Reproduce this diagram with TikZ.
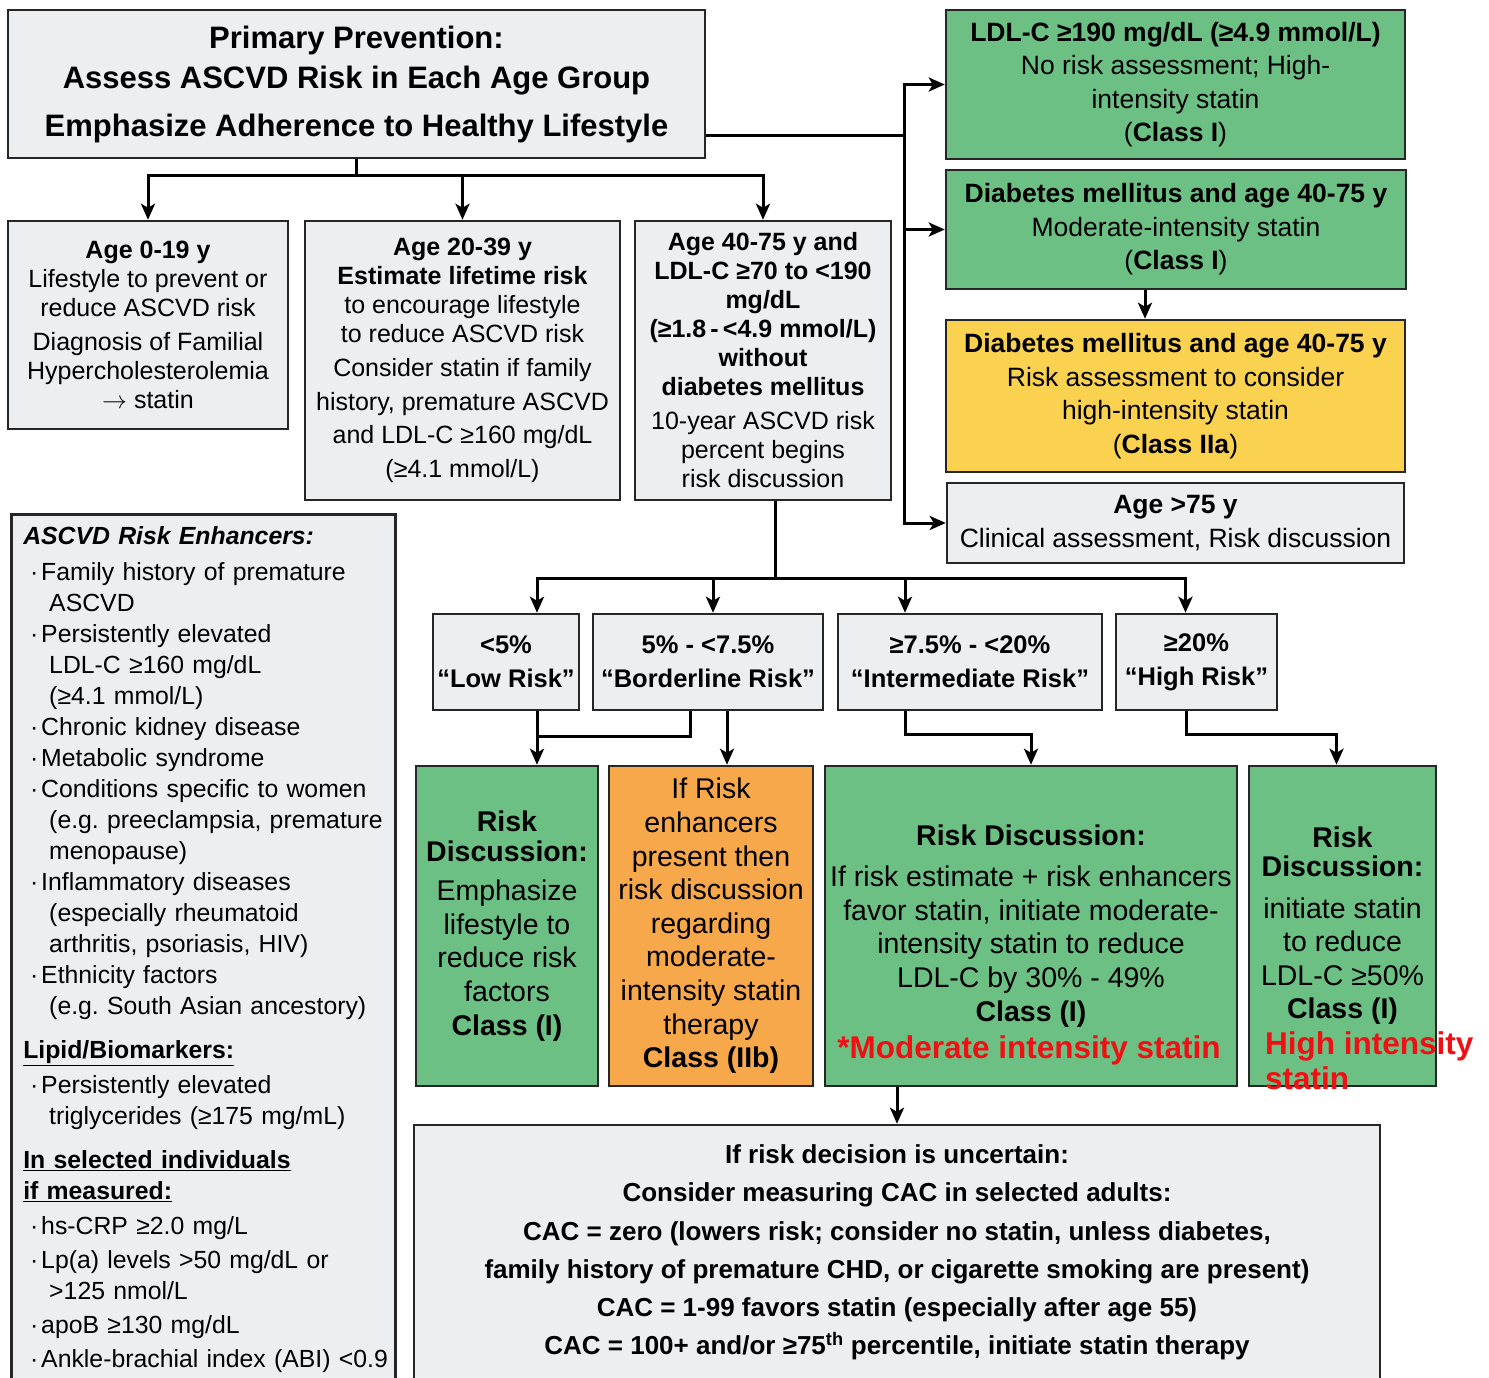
\documentclass[tikz,border=0pt]{standalone}
\usepackage{fontspec}
\setmainfont{Liberation Sans}
\usetikzlibrary{arrows.meta}
\definecolor{boxgray}{RGB}{237,238,240}
\definecolor{stgreen}{RGB}{108,192,132}
\definecolor{styellow}{RGB}{250,210,80}
\definecolor{storange}{RGB}{247,168,74}
\definecolor{stred}{RGB}{240,16,20}
\newcommand{\enhbul}{\makebox[24pt][l]{\hspace{13pt}·}}
\newcommand{\enhind}{\hspace*{32pt}}
\newcommand{\enhhead}{\hspace*{6pt}}
\frenchspacing
\begin{document}
\begin{tikzpicture}[x=1pt,y=-1pt,
	box/.style={draw=black!85, line width=2.5pt, inner sep=0pt, align=center},
	graybox/.style={box, fill=boxgray},
	greenbox/.style={box, fill=stgreen},
	agetxt/.style={font=\fontsize{25}{29}\selectfont},
	sidetxt/.style={font=\fontsize{26.5}{33.5}\selectfont},
	risktxt/.style={font=\bfseries\fontsize{25.5}{34}\selectfont},
	disctxt/.style={font=\fontsize{28.5}{33.6}\selectfont},
	redtxt/.style={inner sep=0pt, text=stred, font=\bfseries\fontsize{31.5}{35}\selectfont},
	ln/.style={line width=3pt},
	arr/.style={ln, -{Stealth[length=16pt,width=14pt,inset=4pt]}}]
	\useasboundingbox[fill=white] (0,0) rectangle (1489,1377);
	
	\node[graybox, minimum width=697pt, minimum height=148pt, font=\bfseries\fontsize{31}{40}\selectfont] (main) at (356.5,84) {Primary Prevention:\\Assess ASCVD Risk in Each Age Group\\[8pt]Emphasize Adherence to Healthy Lifestyle};
	
	\node[greenbox, sidetxt, minimum width=459pt, minimum height=149pt] (ldl) at (1175.5,84.5) {\textbf{LDL-C ≥190 mg/dL (≥4.9 mmol/L)}\\No risk assessment; High-\\intensity statin\\(\textbf{Class I})};
	\node[greenbox, sidetxt, minimum width=460pt, minimum height=119pt] (dm) at (1176,229.5) {\textbf{Diabetes mellitus and age 40-75 y}\\Moderate-intensity statin\\(\textbf{Class I})};
	\node[box, fill=styellow, sidetxt, minimum width=459pt, minimum height=152pt] (dmyel) at (1175.5,396) {\textbf{Diabetes mellitus and age 40-75 y}\\Risk assessment to consider\\high-intensity statin\\(\textbf{Class IIa})};
	\node[graybox, sidetxt, minimum width=457pt, minimum height=80pt] (old) at (1175.5,523) {\textbf{Age >75 y}\\Clinical assessment, Risk discussion};
	
	\node[graybox, agetxt, minimum width=280pt, minimum height=208pt] (age1) at (148,325) {\textbf{Age 0-19 y}\\Lifestyle to prevent or\\reduce ASCVD risk\\[5pt]Diagnosis of Familial\\Hypercholesterolemia\\$\rightarrow$ statin};
	\node[graybox, agetxt, minimum width=315pt, minimum height=279pt] (age2) at (462.5,360.5) {\textbf{Age 20-39 y}\\\textbf{Estimate lifetime risk}\\to encourage lifestyle\\to reduce ASCVD risk\\[5pt]Consider statin if family\\[4.5pt]history, premature ASCVD\\[4.5pt]and LDL-C ≥160 mg/dL\\[4.5pt](≥4.1 mmol/L)};
	\node[graybox, agetxt, minimum width=256pt, minimum height=279pt] (age3) at (763,360.5) {\textbf{Age 40-75 y and}\\\textbf{LDL-C ≥70 to <190}\\\textbf{mg/dL}\\\textbf{(≥1.8\,-\,<4.9 mmol/L)}\\\textbf{without}\\\textbf{diabetes mellitus}\\[5pt]10-year ASCVD risk\\percent begins\\risk discussion};
	
	\node[graybox, anchor=north west, text width=372pt, inner xsep=6pt, inner ysep=12pt, align=left, font=\fontsize{24.8}{31}\selectfont] (enh) at (10,513) {\enhhead\textbf{\textit{ASCVD Risk Enhancers:}}\\[5pt]
		\enhbul Family history of premature\\
		\enhind ASCVD\\
		\enhbul Persistently elevated\\
		\enhind LDL-C ≥160 mg/dL\\
		\enhind (≥4.1 mmol/L)\\
		\enhbul Chronic kidney disease\\
		\enhbul Metabolic syndrome\\
		\enhbul \mbox{Conditions specific to women}\\
		\enhind \mbox{(e.g. preeclampsia, premature}\\
		\enhind menopause)\\
		\enhbul Inflammatory diseases\\
		\enhind (especially rheumatoid\\
		\enhind arthritis, psoriasis, HIV)\\
		\enhbul Ethnicity factors\\
		\enhind \mbox{(e.g. South Asian ancestory)}\\[13pt]
		\enhhead\textbf{\underline{Lipid/Biomarkers:}}\\[4pt]
		\enhbul Persistently elevated\\
		\enhind \mbox{triglycerides (≥175 mg/mL)}\\[13pt]
		\enhhead\textbf{\underline{In selected individuals}}\\
		\enhhead\textbf{\underline{if measured:}}\\[4pt]
		\enhbul hs-CRP ≥2.0 mg/L\\[3pt]
		\enhbul \mbox{Lp(a) levels >50 mg/dL or}\\
		\enhind >125 nmol/L\\[3pt]
		\enhbul apoB ≥130 mg/dL\\[3pt]
		\enhbul \mbox{Ankle-brachial index (ABI) <0.9}};
	
	\node[graybox, risktxt, minimum width=146pt, minimum height=96pt] (low) at (506,662) {<5\%\\“Low Risk”};
	\node[graybox, risktxt, minimum width=230pt, minimum height=96pt] (border) at (708,662) {5\% - <7.5\%\\“Borderline Risk”};
	\node[graybox, risktxt, minimum width=264pt, minimum height=96pt] (inter) at (970,662) {≥7.5\% - <20\%\\“Intermediate Risk”};
	\node[graybox, risktxt, minimum width=161pt, minimum height=96pt] (high) at (1196.5,662) {≥20\%\\“High Risk”};
	
	\node[greenbox, disctxt, minimum width=182pt, minimum height=320pt] (lowd) at (507,926) {\textbf{Risk}\\[-4pt]\textbf{Discussion:}\\[6pt]Emphasize\\lifestyle to\\reduce risk\\factors\\\textbf{Class (I)}};
	\node[box, fill=storange, disctxt, minimum width=204pt, minimum height=320pt] (ibt) at (711,926) {If Risk\\enhancers\\present then\\risk discussion\\regarding\\moderate-\\intensity statin\\therapy\\\textbf{Class (IIb)}};
	\node[greenbox, disctxt, minimum width=412pt, minimum height=320pt] (modd) at (1031,926) {\textbf{Risk Discussion:}\\[7.5pt]If risk estimate + risk enhancers\\favor statin, initiate moderate-\\intensity statin to reduce\\LDL-C by 30\% - 49\%\\\textbf{Class (I)}};
	\node[greenbox, disctxt, minimum width=187pt, minimum height=320pt] (hid) at (1342.5,926) {\textbf{Risk}\\[-4.5pt]\textbf{Discussion:}\\[7.5pt]initiate statin\\to reduce\\LDL-C ≥50\%\\\textbf{Class (I)}};
	\node[redtxt] (modred) at (1029,1050) {*Moderate intensity statin};
	\node[redtxt, anchor=west, align=left] (hired) at (1265,1060.5) {High intensity\\statin};
	
	\node[graybox, minimum width=966pt, minimum height=255pt, font=\bfseries\fontsize{26}{38.2}\selectfont] (cac) at (897,1252.5) {If risk decision is uncertain:\\Consider measuring CAC in selected adults:\\CAC = zero (lowers risk; consider no statin, unless diabetes,\\family history of premature CHD, or cigarette smoking are present)\\CAC = 1-99 favors statin (especially after age 55)\\CAC = 100+ and/or ≥75\textsuperscript{th} percentile, initiate statin therapy};
	
	\coordinate (rbus) at (904,135);
	\coordinate (abus) at (356.5,175);
	\coordinate (kbus) at (775,578);
	
	\draw[ln] (main.east |- rbus) -- (rbus);
	\foreach \to in {ldl,dm,old}
	\draw[arr] (rbus) |- (\to);
	\draw[arr] ([xshift=-31pt]dm.south) -- ([xshift=-30.5pt]dmyel.north);
	
	\draw[ln] (main) -- (abus);
	\foreach \to in {age1,age2,age3}
	\draw[arr] (abus) -| (\to);
	
	\draw[ln] ([xshift=12pt]age3.south) -- (kbus);
	\foreach \to/\dx in {low/31,border/5,inter/-65,high/-11}
	\draw[arr] (kbus) -| ([xshift=\dx pt]\to.north);
	
	\draw[arr] ([xshift=31pt]low.south) -- ([xshift=30pt]lowd.north);
	\draw[ln] ([xshift=-18pt]border.south) -- ++(0,25) -| ([xshift=31pt]low.south);
	\draw[arr] ([xshift=19pt]border.south) -- ([xshift=16pt]ibt.north);
	\draw[arr] ([xshift=-65pt]inter.south) -- ++(0,23) -| (modd);
	\draw[arr] ([xshift=-10pt]high.south) -- ++(0,23) -| ([xshift=-6pt]hid.north);
	\draw[arr] (cac.north |- modd.south) -- (cac);
\end{tikzpicture}
\end{document}
